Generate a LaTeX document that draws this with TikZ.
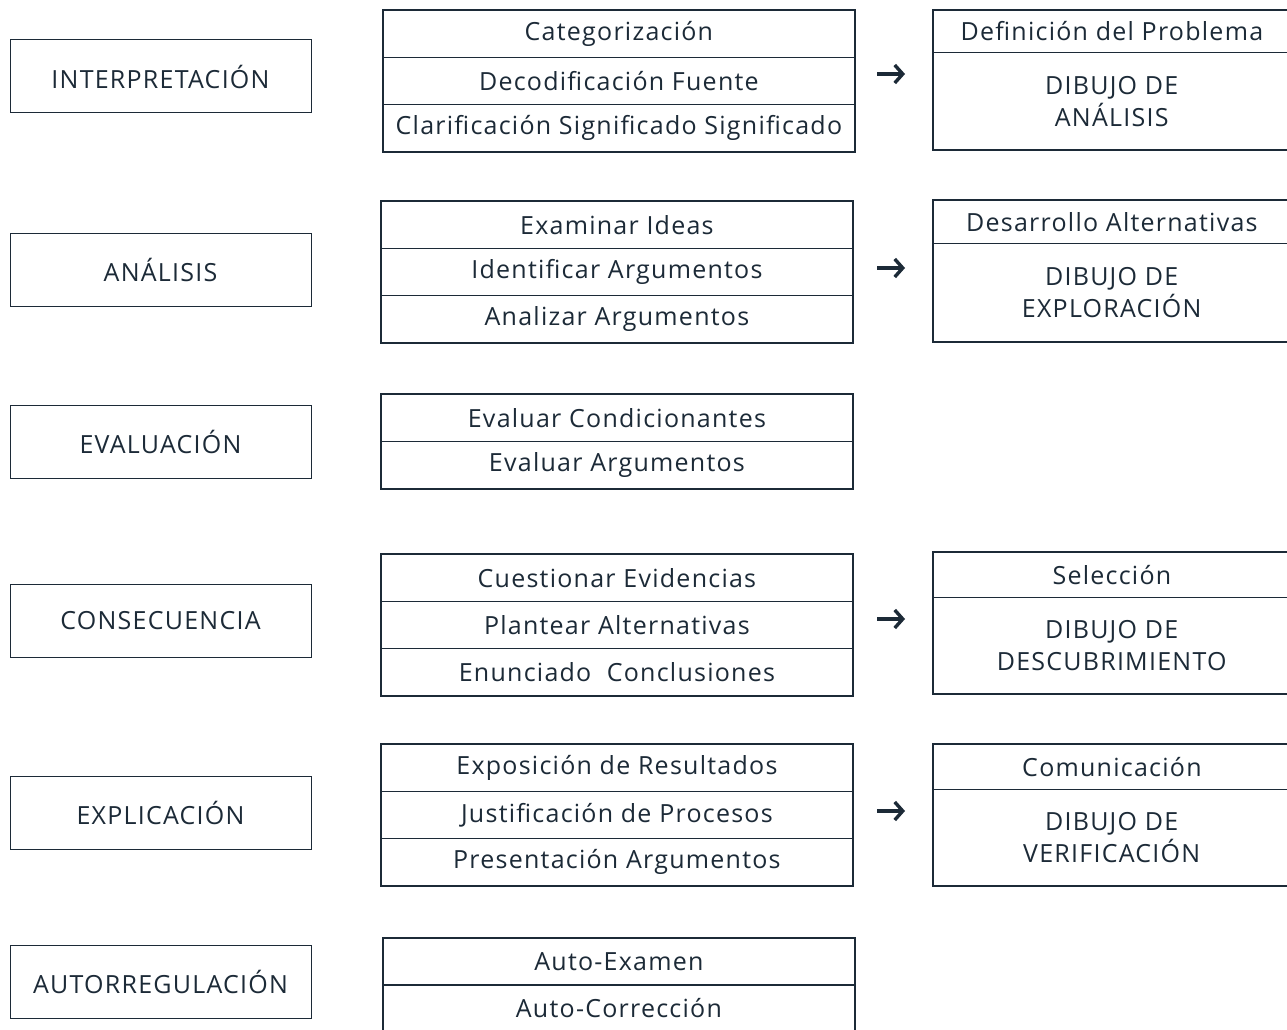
\documentclass[tikz,border=0pt]{standalone}
\usepackage{fontspec}
\setmainfont[LetterSpace=5]{Open Sans}
\usetikzlibrary{arrows.meta}
\definecolor{ink}{HTML}{1C2A37}
\begin{document}
\begin{tikzpicture}[x=1pt,y=-1pt,
  txt/.style={font=\fontsize{25}{32}\selectfont, text=ink},
  lbox/.style={txt, draw=ink, line width=1pt, rectangle, minimum width=301pt, minimum height=73pt, inner sep=0pt},
  cell/.style={txt, draw=ink, line width=0.8pt, rectangle, minimum width=471pt, minimum height=47pt, inner sep=0pt, anchor=north west},
  frame/.style={draw=ink, line width=2pt},
  rhead/.style={txt, draw=ink, line width=0.8pt, rectangle, minimum width=357pt, inner sep=0pt, anchor=north west},
  rbody/.style={txt, align=center, rectangle, minimum width=357pt, inner sep=0pt, anchor=north west},
  arr/.style={draw=ink, line width=3.4pt, -{Straight Barb[length=8pt,width=18pt,line width=3.4pt]}}
]
\useasboundingbox (0,0) rectangle (1287,1030);
\clip (0,0) rectangle (1287,1030);
\fill[white] (0,0) rectangle (1287,1030);

% left boxes
\node[lbox] (l1) at (160.5,76.5) {INTERPRETACIÓN};
\node[lbox] (l2) at (160.5,269.5) {ANÁLISIS};
\node[lbox] (l3) at (160.5,441.5) {EVALUACIÓN};
\node[lbox] (l4) at (160.5,620.5) {CONSECUENCIA};
\node[lbox] (l5) at (160.5,812.5) {EXPLICACIÓN};
\node[lbox] (l6) at (160.5,981.5) {AUTORREGULACIÓN};

% middle tables
\node[cell] (m11) at (383,10) {Categorización};
\node[cell] (m12) at (383,57) {Decodificación Fuente};
\node[cell] (m13) at (383,104) {Clarificación Significado Significado};
\draw[frame] (m11.north west) rectangle (m13.south east);

\node[cell] (m21) at (381,201) {Examinar Ideas};
\node[cell] (m22) at (381,248) {Identificar Argumentos};
\node[cell] (m23) at (381,295) {Analizar Argumentos};
\draw[frame] (m21.north west) rectangle (m23.south east);

\node[cell] (m31) at (381,394) {Evaluar Condicionantes};
\node[cell] (m32) at (381,441) {Evaluar Argumentos};
\draw[frame] (m31.north west) rectangle (m32.south east);

\node[cell] (m41) at (381,554) {Cuestionar Evidencias};
\node[cell] (m42) at (381,601) {Plantear Alternativas};
\node[cell] (m43) at (381,648) {Enunciado\ \ Conclusiones};
\draw[frame] (m41.north west) rectangle (m43.south east);

\node[cell] (m51) at (381,744) {Exposición de Resultados};
\node[cell] (m52) at (381,791) {Justificación de Procesos};
\node[cell] (m53) at (381,838) {Presentación Argumentos};
\draw[frame] (m51.north west) rectangle (m53.south east);

\node[cell] (m61) at (383,938) {Auto-Examen};
\node[cell] (m62) at (383,984) {Auto-Corrección};
\draw[frame] (m61.north west) rectangle (m62.south east);

% right boxes
\node[rhead, minimum height=42pt] (r1h) at (933,10) {Definición del Problema};
\node[rbody, minimum height=98pt] (r1b) at (933,52) {DIBUJO DE\\ANÁLISIS};
\draw[frame] (r1h.north west) rectangle (r1b.south east);

\node[rhead, minimum height=43pt] (r2h) at (933,200) {Desarrollo Alternativas};
\node[rbody, minimum height=99pt] (r2b) at (933,243) {DIBUJO DE\\EXPLORACIÓN};
\draw[frame] (r2h.north west) rectangle (r2b.south east);

\node[rhead, minimum height=45pt] (r4h) at (933,552) {Selección};
\node[rbody, minimum height=97pt] (r4b) at (933,597) {DIBUJO DE\\DESCUBRIMIENTO};
\draw[frame] (r4h.north west) rectangle (r4b.south east);

\node[rhead, minimum height=45pt] (r5h) at (933,744) {Comunicación};
\node[rbody, minimum height=97pt] (r5b) at (933,789) {DIBUJO DE\\VERIFICACIÓN};
\draw[frame] (r5h.north west) rectangle (r5b.south east);

% arrows
\coordinate (a1s) at (877,74); \coordinate (a1e) at (905,74);
\coordinate (a2s) at (877,268); \coordinate (a2e) at (905,268);
\coordinate (a4s) at (877,619); \coordinate (a4e) at (905,619);
\coordinate (a5s) at (877,811); \coordinate (a5e) at (905,811);
\draw[arr] (a1s) -- (a1e);
\draw[arr] (a2s) -- (a2e);
\draw[arr] (a4s) -- (a4e);
\draw[arr] (a5s) -- (a5e);
\end{tikzpicture}
\end{document}
